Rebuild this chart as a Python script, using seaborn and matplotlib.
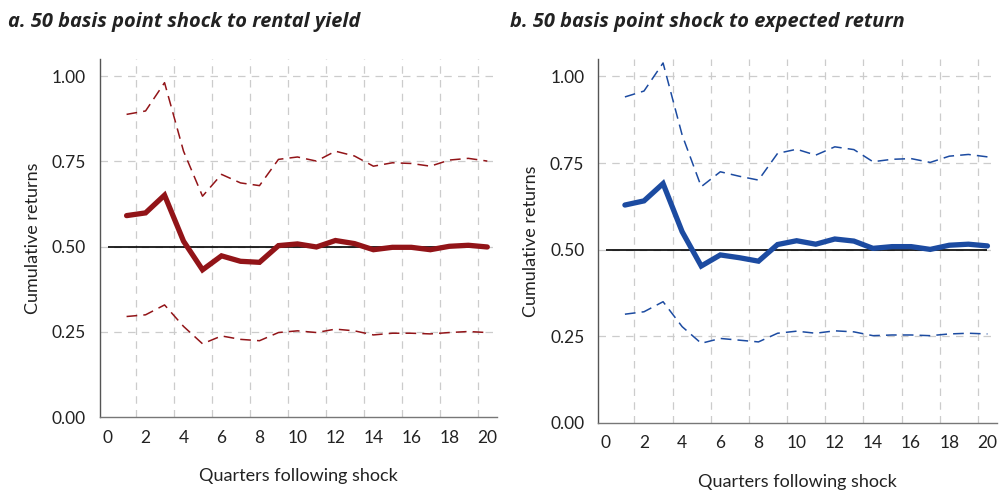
import numpy as np
import pandas as pd
import matplotlib
matplotlib.use("Agg")
import matplotlib.pyplot as plt
import seaborn as sns

quarters = list(range(1, 21))

# panel a: shock to rental yield
rent_mid = [0.591, 0.599, 0.651, 0.516, 0.432, 0.473, 0.457, 0.454, 0.503, 0.508,
            0.499, 0.518, 0.509, 0.491, 0.498, 0.498, 0.491, 0.501, 0.504, 0.499]
rent_hi = [0.888, 0.898, 0.981, 0.780, 0.648, 0.712, 0.687, 0.679, 0.756, 0.763,
           0.751, 0.780, 0.766, 0.736, 0.746, 0.744, 0.736, 0.754, 0.759, 0.751]
rent_lo = [0.295, 0.300, 0.329, 0.266, 0.215, 0.238, 0.228, 0.224, 0.248, 0.253,
           0.248, 0.258, 0.253, 0.241, 0.246, 0.246, 0.244, 0.248, 0.251, 0.248]

# panel b: shock to expected return
ret_mid = [0.629, 0.641, 0.691, 0.552, 0.453, 0.485, 0.477, 0.467, 0.515, 0.526,
           0.516, 0.531, 0.525, 0.504, 0.509, 0.509, 0.501, 0.513, 0.516, 0.511]
ret_hi = [0.941, 0.958, 1.039, 0.831, 0.682, 0.725, 0.712, 0.701, 0.778, 0.790,
          0.773, 0.797, 0.789, 0.754, 0.761, 0.763, 0.752, 0.770, 0.775, 0.768]
ret_lo = [0.314, 0.321, 0.350, 0.278, 0.230, 0.244, 0.239, 0.234, 0.259, 0.265,
          0.259, 0.266, 0.263, 0.252, 0.254, 0.254, 0.252, 0.257, 0.259, 0.257]

titles = ["a. 50 basis point shock to rental yield",
          "b. 50 basis point shock to expected return"]
colors = ["#921418", "#1c4ba1"]
yticks = [0.0, 0.25, 0.5, 0.75, 1.0]
xticks = list(range(0, 21, 2))
baseline = 0.5

sns.set_style("white")
plt.rcParams['font.family'] = ['Lato', 'DejaVu Sans']

fig = plt.figure(figsize=(10.02, 4.93), dpi=100)
ax1 = fig.add_axes([0.0998, 0.154, 0.396, 0.726])
ax2 = fig.add_axes([0.597, 0.142, 0.398, 0.738])

panels = [(ax1, rent_mid, rent_hi, rent_lo), (ax2, ret_mid, ret_hi, ret_lo)]

for i, (ax, mid, hi, lo) in enumerate(panels):
    df = pd.DataFrame({"q": quarters, "mid": mid, "hi": hi, "lo": lo})
    c = colors[i]
    # grid first
    minor = np.arange(1.5, 20, 2)
    ax.set_xticks(minor, minor=True)
    ax.set_xticks(xticks)
    ax.set_xticklabels([str(t) for t in xticks])
    ax.set_yticks(yticks)
    ax.set_yticklabels(["%.2f" % t for t in yticks])
    ax.grid(False)
    for m in minor:
        ax.axvline(m, color="#cccccc", lw=0.9, ls=(0, (6, 5)), zorder=0)
    for t in yticks[1:]:
        ax.axhline(t, color="#cccccc", lw=0.9, ls=(0, (6, 5)), zorder=0)

    ax.hlines(baseline, quarters[0] - 1, quarters[-1], color="black", lw=1.2, zorder=2)
    sns.lineplot(data=df, x="q", y="hi", ax=ax, color=c, lw=1.1, zorder=3)
    sns.lineplot(data=df, x="q", y="lo", ax=ax, color=c, lw=1.1, zorder=3)
    ax.lines[-1].set_linestyle((0, (7, 4)))
    ax.lines[-2].set_linestyle((0, (7, 4)))
    sns.lineplot(data=df, x="q", y="mid", ax=ax, color=c, lw=3.8, zorder=4,
                 solid_capstyle="round", solid_joinstyle="miter")

    ax.set_xlim(-0.4, 20.5)
    ax.set_ylim(0, 1.05)
    for s in ["top", "right"]:
        ax.spines[s].set_visible(False)
    ax.spines["left"].set_color("#555555")
    ax.spines["bottom"].set_color("#777777")
    ax.spines["left"].set_linewidth(1.0)
    ax.spines["bottom"].set_linewidth(1.0)
    ax.tick_params(axis="x", which="major", length=0, pad=9, labelsize=12.5, colors="#222222")
    ax.tick_params(axis="x", which="minor", length=6, direction="out", color="#777777", width=1)
    ax.tick_params(axis="y", which="major", length=6, direction="out", color="#777777",
                   labelsize=12.5, colors="#222222", pad=4)
    ax.tick_params(axis="y", color="#777777")
    ax.set_xlabel("Quarters following shock", fontsize=13, color="#222222", labelpad=16)
    ax.set_ylabel("Cumulative returns", fontsize=13, color="#222222", labelpad=8)

for x0, t in zip([0.008, 0.509], titles):
    fig.text(x0, 0.955, t, fontsize=14.4, fontweight="bold", fontstyle="italic",
             family=["Open Sans", "DejaVu Sans"], color="#222222", va="center")

fig.savefig("out.png", dpi=100)
